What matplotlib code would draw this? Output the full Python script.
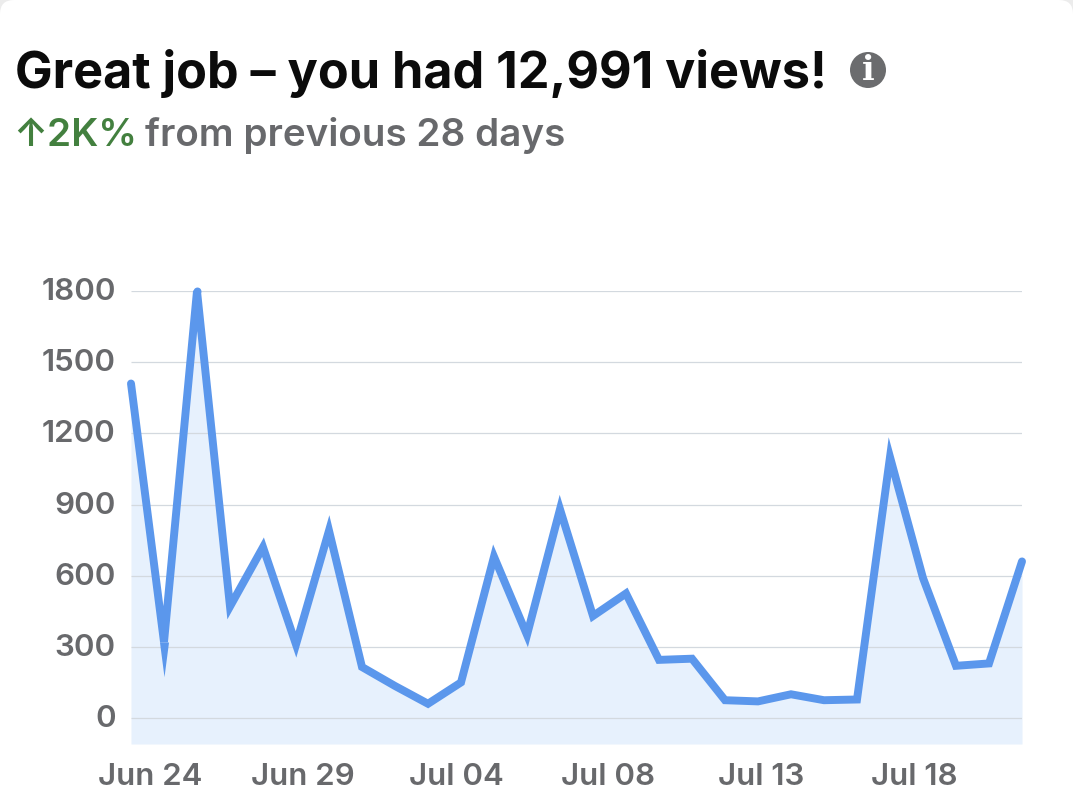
import matplotlib
matplotlib.use("Agg")
import matplotlib.pyplot as plt
from matplotlib.patches import Circle, FancyBboxPatch
from matplotlib.transforms import ScaledTranslation

W, H = 1073, 811

views = [1410, 320, 1800, 470, 720, 310, 790, 215, 135, 60, 150, 680, 350, 880,
         430, 525, 245, 250, 75, 70, 100, 75, 78, 1100, 590, 220, 230, 660]
y_ticks = [0, 300, 600, 900, 1200, 1500, 1800]
x_labels = ["Jun 24", "Jun 29", "Jul 04", "Jul 08", "Jul 13", "Jul 18"]
x_label_pos = [0.58, 5.2, 9.85, 14.45, 19.09, 23.73]

plt.rcParams["font.family"] = "Inter"

fig = plt.figure(figsize=(W / 100, H / 100), dpi=100, facecolor="#ececec")

# card behind everything, in pixel coordinates
bg = fig.add_axes([0, 0, 1, 1])
bg.set_xlim(0, W)
bg.set_ylim(H, 0)
bg.axis("off")
bg.add_patch(FancyBboxPatch((0, 0), W, H + 40, boxstyle="round,pad=0,rounding_size=14",
                            fc="white", ec="none", mutation_aspect=1))

bg.text(15, 74, "Great job – you had 12,991 views!", fontsize=36.25, fontweight="bold",
        color="#0b0b0b", va="center", ha="left")
bg.text(13, 136, "↑2K%", fontsize=27.8, fontweight="semibold", color="#43803f",
        va="center", ha="left")
bg.text(145, 136, "from previous 28 days", fontsize=27.8, fontweight="semibold", color="#68696c",
        va="center", ha="left")
bg.add_patch(Circle((868, 70), 18, fc="#6b6c6e", ec="none"))
bg.text(868, 71, "i", fontsize=24, fontweight="bold", color="white", ha="center", va="center",
        family="DejaVu Serif")

# plot area: 0 sits at y=718, 1800 at y=291, bottom edge at y=744
left, right, top, bottom = 131, 1022, 291, 744
px_per_view = (718 - 291) / 1800
ax = fig.add_axes([left / W, 1 - bottom / H, (right - left) / W, (bottom - top) / H])
ax.patch.set_alpha(0)
x = list(range(len(views)))
ax.set_xlim(0, len(views) - 1)
ax.set_ylim(-(bottom - 718) / px_per_view, 1800)

ax.fill_between(x, views, ax.get_ylim()[0], color="#e7f1fd", lw=0, zorder=1)
for t in y_ticks:
    ax.axhline(t, color="#d3d9df", lw=0.9, zorder=2, solid_capstyle="butt")
ax.plot(x, views, color="#5b97ec", lw=5.7, solid_joinstyle="miter", solid_capstyle="round",
        clip_on=False, zorder=3)

# agg bevels very sharp joins, so put the pointed tip and round peak back by hand
spike_tip = [(-0.13, 0), (0.13, 0), (0, -1)]
ax.plot(x[1], views[1], marker=spike_tip, ms=50, color="#5b97ec", mew=0, clip_on=False, zorder=3)
ax.plot(x[2], views[2], marker="o", ms=5.7, color="#5b97ec", mew=0, clip_on=False, zorder=3)

for s in ax.spines.values():
    s.set_visible(False)
ax.set_yticks(y_ticks)
ax.set_xticks(x_label_pos)
ax.set_xticklabels(x_labels)
ax.tick_params(length=0, labelcolor="#68696c", labelsize=22.5)
ax.tick_params(axis="y", pad=11)
ax.tick_params(axis="x", pad=14)
for lab in ax.get_xticklabels():
    lab.set_fontweight("semibold")
# y labels sit a touch above their gridlines
nudge = ScaledTranslation(0, 2 / 100, fig.dpi_scale_trans)
for lab in ax.get_yticklabels():
    lab.set_fontweight("semibold")
    lab.set_transform(lab.get_transform() + nudge)

fig.savefig("out.png", dpi=100, facecolor=fig.get_facecolor())
